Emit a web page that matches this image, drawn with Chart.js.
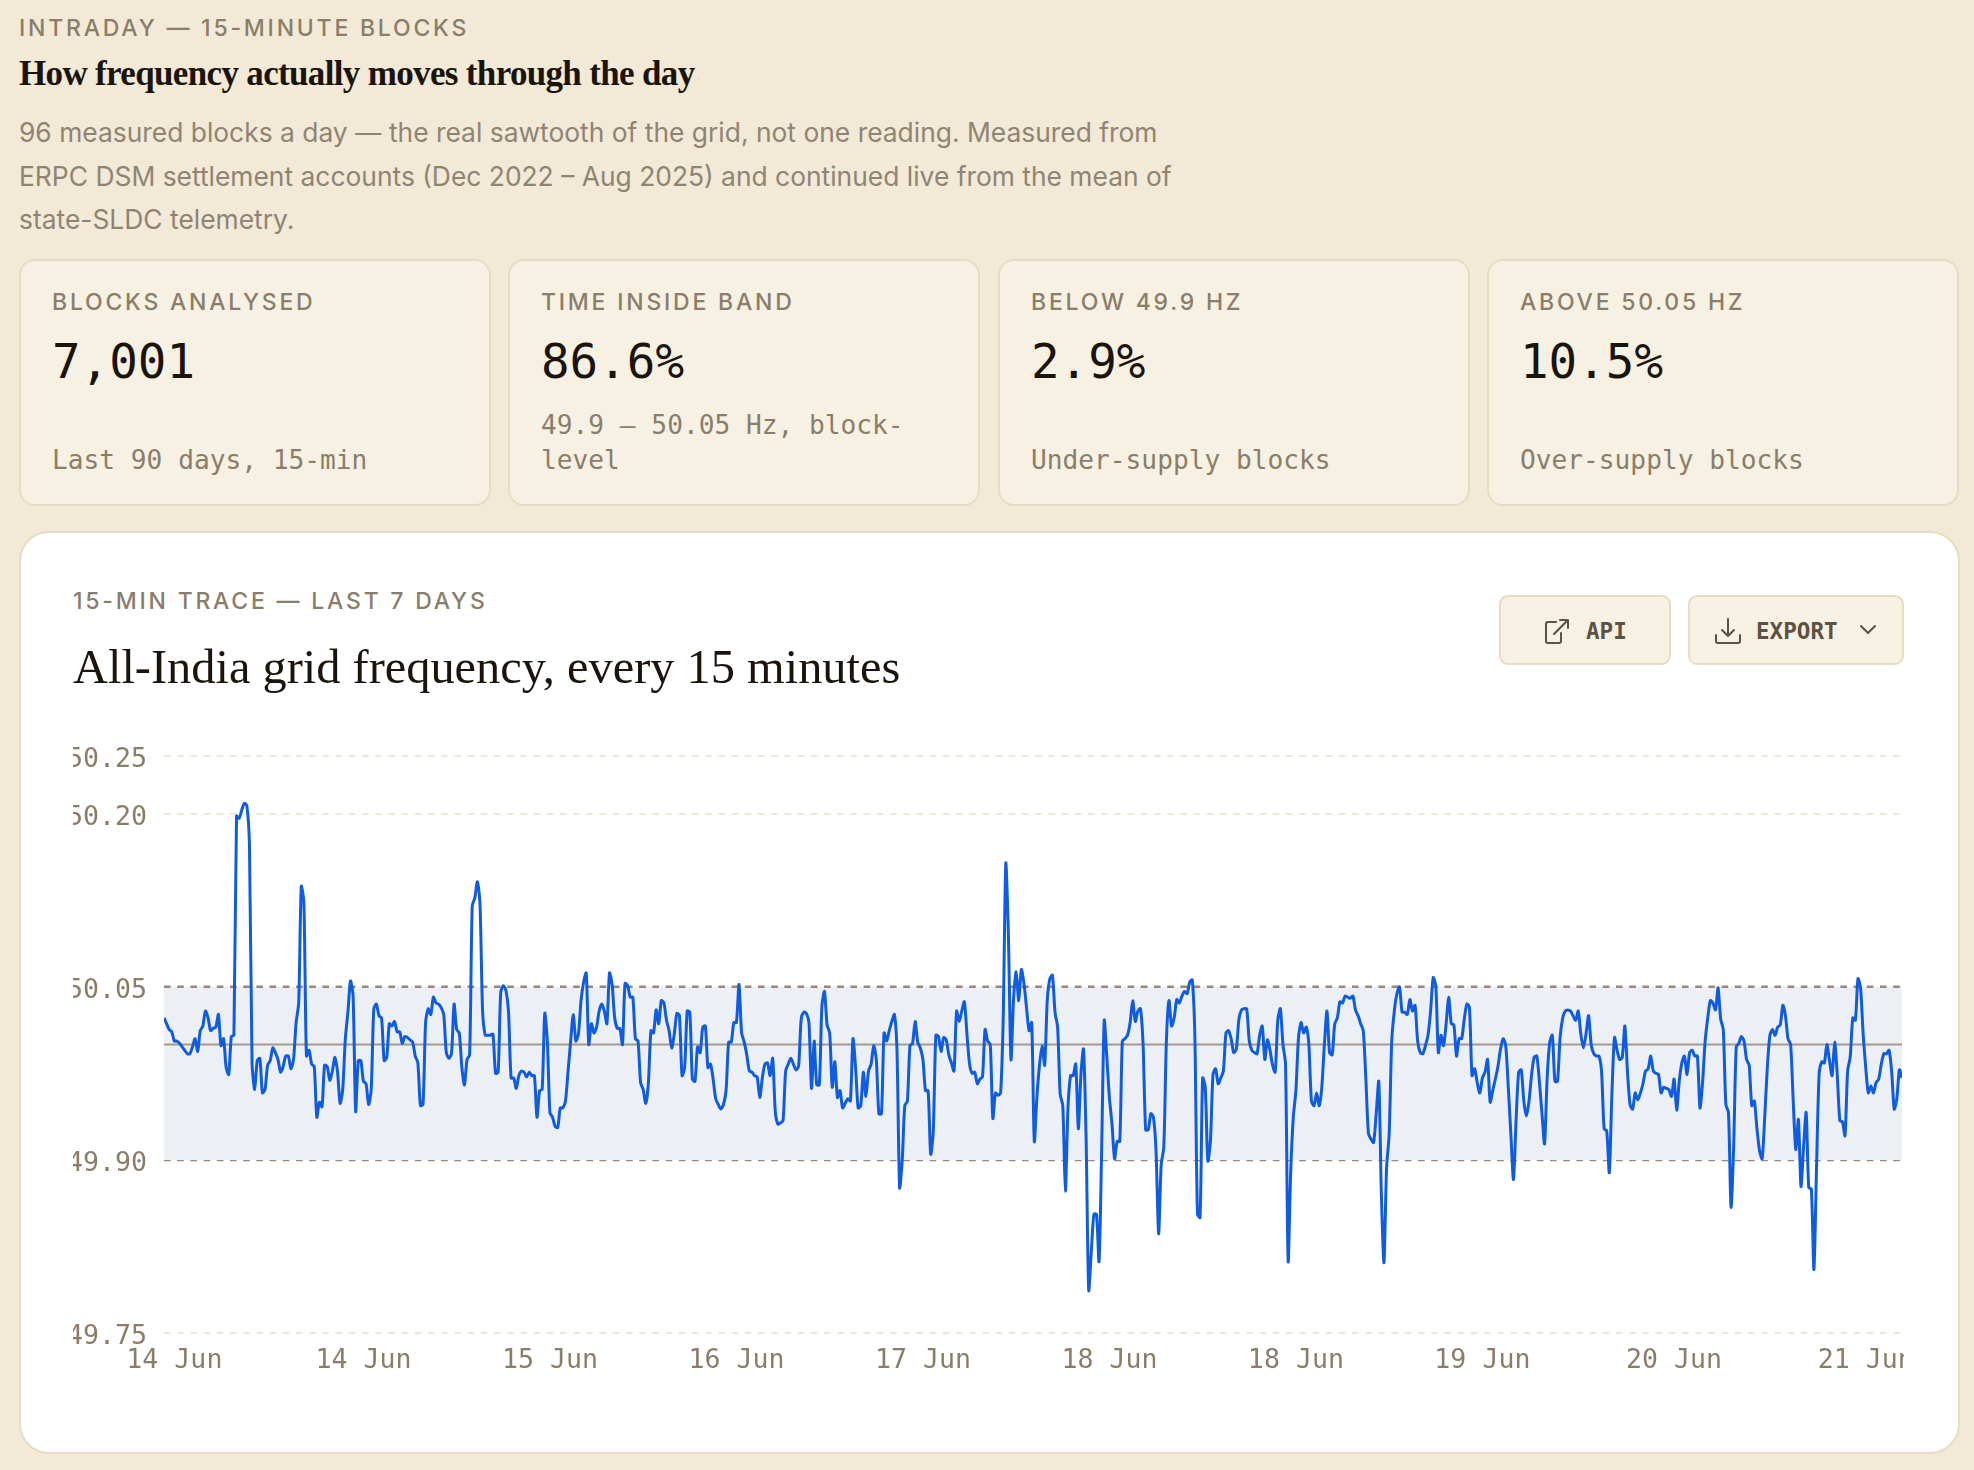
<!DOCTYPE html>
<html>
<head>
<meta charset="utf-8">
<title>Intraday frequency</title>
<script src="https://cdn.jsdelivr.net/npm/chart.js@4"></script>
<style>
  html, body { margin: 0; padding: 0; }
  body { width: 1974px; height: 1470px; background: #f2ead7; position: relative; overflow: hidden; font-family: Inter, sans-serif; }
  .abs { position: absolute; white-space: nowrap; }
  .eyebrow { font-family: Inter, sans-serif; font-size: 23px; font-weight: 500; letter-spacing: 2.78px; color: #8a7d6a; line-height: 28px; }
  .headline { left: 19px; top: 52px; font-family: "Liberation Serif", serif; font-weight: 700; font-size: 35px; line-height: 44px; letter-spacing: -0.66px; color: #1a140c; }
  .lede { left: 19px; top: 111px; font-size: 26.4px; line-height: 43.6px; color: #8f8474; }
  .stat { position: absolute; top: 259px; width: 472px; height: 247px; box-sizing: border-box; background: #f7f1e3; border: 2px solid #e6dcc3; border-radius: 16px; }
  .stat .eyebrow { position: absolute; left: 31px; top: 27px; white-space: nowrap; }
  .stat .num { position: absolute; left: 31px; top: 73px; font-family: "DejaVu Sans Mono", monospace; font-size: 47.5px; line-height: 56px; color: #1a140c; }
  .stat .sub { position: absolute; left: 31px; bottom: 26px; font-family: "DejaVu Sans Mono", monospace; font-size: 26.2px; line-height: 35px; color: #8a7d6a; width: 410px; }
  .panel { position: absolute; left: 19px; top: 531px; width: 1941px; height: 923px; box-sizing: border-box; background: #fff; border: 2px solid #e6dcc3; border-radius: 30px; }
  .panel-title { left: 73px; top: 637px; font-family: "Liberation Serif", serif; font-size: 48.4px; line-height: 60px; color: #1a140c; }
  .btn { position: absolute; top: 595px; height: 70px; box-sizing: border-box; background: #f7f1e3; border: 2px solid #e6dcc3; border-radius: 9px; font-family: "DejaVu Sans Mono", monospace; font-weight: 700; font-size: 22.6px; color: #5c5142; }
  .btn span { position: absolute; top: 20px; line-height: 28px; }
  .btn svg { position: absolute; fill: none; stroke: #5c5142; stroke-width: 2; stroke-linecap: round; stroke-linejoin: round; }
  #trace { position: absolute; left: 73px; top: 736px; }
</style>
</head>
<body>
<div class="abs eyebrow" style="left:19px;top:14px">INTRADAY — 15-MINUTE BLOCKS</div>
<div class="abs headline">How frequency actually moves through the day</div>
<div class="abs lede">96 measured blocks a day — the real sawtooth of the grid, not one reading. Measured from<br>ERPC DSM settlement accounts (Dec 2022 – Aug 2025) and continued live from the mean of<br>state-SLDC telemetry.</div>

<div class="stat" style="left:19px"><div class="eyebrow">BLOCKS ANALYSED</div><div class="num">7,001</div><div class="sub">Last 90 days, 15-min</div></div>
<div class="stat" style="left:508px"><div class="eyebrow">TIME INSIDE BAND</div><div class="num">86.6%</div><div class="sub">49.9 – 50.05 Hz, block-<br>level</div></div>
<div class="stat" style="left:998px"><div class="eyebrow">BELOW 49.9 HZ</div><div class="num">2.9%</div><div class="sub">Under-supply blocks</div></div>
<div class="stat" style="left:1487px"><div class="eyebrow">ABOVE 50.05 HZ</div><div class="num">10.5%</div><div class="sub">Over-supply blocks</div></div>

<div class="panel"></div>
<div class="abs eyebrow" style="left:73px;top:587px">15-MIN TRACE — LAST 7 DAYS</div>
<div class="abs panel-title">All-India grid frequency, every 15 minutes</div>

<div class="btn" style="left:1499px;width:172px">
  <svg style="left:42px;top:20px" width="28" height="28" viewBox="0 0 28 28"><path d="M13 5H5a2 2 0 0 0-2 2v17a2 2 0 0 0 2 2h11a2 2 0 0 0 2-2v-8"/><path d="M11 17L25 3M17 3h8v8"/></svg>
  <span style="left:85px">API</span>
</div>
<div class="btn" style="left:1688px;width:216px">
  <svg style="left:24px;top:20px" width="28" height="28" viewBox="0 0 28 28"><path d="M2 18v6a2 2 0 0 0 2 2h20a2 2 0 0 0 2-2v-6"/><path d="M14 2v16M8 13l6 6 6-6"/></svg>
  <span style="left:66px">EXPORT</span>
  <svg style="left:169px;top:26px" width="18" height="14" viewBox="0 0 18 14"><path d="M2 3l7 7 7-7"/></svg>
</div>

<canvas id="trace" width="1831" height="640"></canvas>

<script>
// 15-minute block means in Hz, one array per 96 blocks
const blocksA = [50.023,50.018,50.013,50.011,50.003,50.003,50.001,49.998,49.995,49.992,49.992,49.998,50.005,49.994,50.012,50.016,50.029,50.023,50.012,50.014,50.015,50.026,49.999,50.005,49.980,49.974,50.007,50.008,50.198,50.196,50.203,50.209,50.207,50.172,49.984,49.961,49.986,49.988,49.958,49.961,49.982,49.986,49.997,49.993,49.987,49.976,49.981,49.990,49.990,49.979,49.987,50.019,50.036,50.137,50.123,49.990,49.995,49.983,49.981,49.937,49.950,49.946,49.982,49.981,49.969,49.977,49.989,49.976,49.949,49.961,50.005,50.028,50.055,50.042,49.942,49.986,49.986,49.968,49.966,49.948,49.961,50.031,50.035,50.025,50.023,49.986,49.989,50.018,50.016,50.020,50.011,50.011,50.001,50.007,50.006,50.004];
const blocksB = [50.002,49.990,49.984,49.947,49.948,50.019,50.031,50.026,50.041,50.036,50.035,50.032,50.026,49.993,49.988,49.992,50.035,50.013,50.010,49.980,49.965,49.987,49.991,50.120,50.127,50.141,50.122,50.029,50.008,50.008,50.008,50.009,49.975,49.976,50.045,50.051,50.047,50.029,49.971,49.971,49.962,49.973,49.977,49.976,49.972,49.976,49.973,49.973,49.937,49.960,49.961,50.027,50.003,49.941,49.937,49.929,49.928,49.945,49.945,49.951,49.977,50.003,50.026,50.003,50.009,50.038,50.054,50.062,50.000,50.018,50.010,50.015,50.029,50.035,50.029,50.018,50.062,50.052,50.023,50.014,50.014,50.000,50.053,50.051,50.041,50.041,50.005,50.003,49.967,49.961,49.949,49.966,50.012,50.010,50.030,50.018];
const blocksC = [50.038,50.036,50.021,50.012,49.997,50.009,50.027,50.025,49.973,49.980,50.029,50.028,49.970,49.968,49.998,49.993,50.015,50.016,49.980,49.983,49.970,49.953,49.948,49.944,49.948,49.960,50.002,50.002,50.019,50.019,50.052,50.010,50.002,49.991,49.977,49.976,49.973,49.972,49.954,49.971,49.983,49.984,49.973,49.988,49.942,49.931,49.932,49.934,49.977,49.983,49.988,49.983,49.978,49.981,50.022,50.028,50.027,50.019,49.962,50.003,49.965,49.965,50.033,50.046,50.017,50.010,49.963,49.985,49.954,49.960,49.945,49.949,49.953,49.951,50.005,49.980,49.945,49.947,49.976,49.955,49.977,49.983,49.999,49.987,49.940,49.940,50.010,50.003,50.012,50.020,50.026,49.994,49.876,49.899,49.947,49.951];
const blocksD = [49.999,50.001,50.020,50.002,49.997,49.987,49.960,49.960,49.905,49.925,50.008,50.007,49.994,50.006,50.004,49.991,49.984,49.977,50.029,50.020,50.029,50.037,50.009,49.983,49.975,49.976,49.966,49.970,49.972,50.013,50.003,50.000,49.936,49.958,49.956,49.958,50.023,50.157,50.095,49.987,50.040,50.063,50.038,50.065,50.053,50.032,50.012,50.019,49.916,49.954,49.982,49.999,49.982,50.038,50.057,50.060,50.028,50.015,49.957,49.947,49.873,49.945,49.973,49.973,49.983,49.927,49.974,49.996,49.919,49.787,49.820,49.853,49.853,49.812,49.908,50.021,49.989,49.954,49.931,49.901,49.916,49.916,50.003,50.005,50.008,50.019,50.038,50.020,50.029,50.031,50.000,49.926,49.926,49.940,49.937,49.908];
const blocksE = [49.836,49.896,49.911,50.003,50.038,50.016,50.023,50.039,50.036,50.042,50.046,50.044,50.054,50.056,50.006,49.853,49.850,49.971,49.963,49.899,49.916,49.974,49.979,49.966,49.971,49.977,50.010,50.012,50.005,49.993,49.996,50.022,50.030,50.031,50.031,50.003,49.995,49.993,49.992,50.008,50.016,49.987,50.004,49.995,49.982,49.976,50.021,50.031,50.000,49.983,49.812,49.890,49.937,49.960,50.006,50.019,50.010,50.015,50.000,49.951,49.947,49.958,49.947,49.963,50.000,50.029,49.993,49.991,50.018,50.023,50.037,50.036,50.042,50.041,50.040,50.042,50.030,50.025,50.018,50.012,49.971,49.923,49.918,49.915,49.940,49.968,49.870,49.811,49.893,49.922,50.003,50.029,50.044,50.050,50.028,50.028];
const blocksF = [50.026,50.039,50.029,50.034,50.003,49.993,49.992,49.999,50.008,50.029,50.058,50.051,49.993,50.008,49.999,50.018,50.041,50.018,50.017,49.990,50.005,50.005,50.022,50.035,50.032,49.973,49.979,49.967,49.958,49.971,49.976,49.987,49.950,49.960,49.970,49.981,49.996,50.005,49.999,49.963,49.922,49.883,49.934,49.976,49.978,49.951,49.938,49.951,49.974,49.989,49.990,49.968,49.940,49.914,49.971,50.002,50.008,49.968,49.968,50.006,50.023,50.029,50.030,50.029,50.025,50.021,50.029,50.009,49.997,50.009,50.025,50.000,49.992,49.990,49.990,49.977,49.927,49.925,49.889,49.957,50.006,49.995,49.987,49.989,50.016,49.977,49.948,49.944,49.958,49.952,49.958,49.966,49.977,49.979,49.990,49.977];
const blocksG = [49.975,49.974,49.958,49.963,49.962,49.961,49.955,49.970,49.943,49.968,49.984,49.990,49.974,49.993,49.995,49.990,49.990,49.945,49.967,50.003,50.023,50.038,50.036,50.030,50.049,50.022,50.013,49.948,49.941,49.859,49.911,49.998,50.001,50.007,50.003,49.987,49.982,49.947,49.951,49.927,49.908,49.901,49.937,49.980,50.008,50.013,50.008,50.015,50.017,50.034,50.025,50.005,50.000,49.951,49.909,49.935,49.877,49.911,49.941,49.876,49.875,49.805,49.893,49.974,49.985,49.984,50.000,49.986,49.973,50.002,49.974,49.934,49.933,49.921,49.977,49.989,50.023,50.021,50.057,50.049,50.009,49.980,49.958,49.964,49.958,49.967,49.970,49.983,49.992,49.992,49.995,49.977,49.944,49.953,49.978,49.971];

const freqHz = [...blocksA, ...blocksB, ...blocksC, ...blocksD, ...blocksE, ...blocksF, ...blocksG];
const lastBlock = freqHz.length - 1;

const yTicks = [49.75, 49.9, 50.05, 50.2, 50.25];
const tickBlocks = [4, 77, 149, 221, 293, 365, 437, 509, 583, 657];
const tickDates = ["14 Jun", "14 Jun", "15 Jun", "16 Jun", "17 Jun", "18 Jun", "18 Jun", "19 Jun", "20 Jun", "21 Jun"];
const bandLow = 49.9;
const bandHigh = 50.05;
const nominal = 50;

const span = (hz) => [{ x: 0, y: hz }, { x: lastBlock, y: hz }];
const mono = '"DejaVu Sans Mono", monospace';

new Chart(document.getElementById("trace"), {
  type: "line",
  data: {
    datasets: [
      {
        data: freqHz.map((hz, i) => ({ x: i, y: hz })),
        borderColor: "#0f5ce0",
        borderWidth: 3,
        tension: 0.25,
        pointRadius: 0,
        fill: false,
        order: 0,
      },
      {
        data: span(nominal),
        borderColor: "#a39a8c",
        borderWidth: 2,
        pointRadius: 0,
        fill: false,
        order: 1,
      },
      {
        data: span(bandHigh),
        borderColor: "#9c8676",
        borderWidth: 2.5,
        borderDash: [6.6, 6.6],
        pointRadius: 0,
        backgroundColor: "#eceff4",
        fill: "+1",
        order: 2,
      },
      {
        data: span(bandLow),
        borderColor: "#9c8676",
        borderWidth: 2.5,
        borderDash: [6.6, 6.6],
        pointRadius: 0,
        fill: false,
        order: 2,
      },
    ],
  },
  options: {
    responsive: false,
    animation: false,
    layout: { padding: { top: 20, right: 2, left: 0, bottom: 0 } },
    plugins: { legend: { display: false }, tooltip: { enabled: false } },
    scales: {
      x: {
        type: "linear",
        min: 0,
        max: lastBlock,
        border: { display: false },
        grid: { display: false },
        afterBuildTicks: (axis) => {
          axis.ticks = tickBlocks.map((value) => ({ value }));
        },
        afterFit: (axis) => {
          axis.height = 43;
          axis.paddingLeft = 0;
          axis.paddingRight = 0;
        },
        ticks: {
          autoSkip: false,
          maxRotation: 0,
          padding: 4,
          color: "#8a7d6a",
          font: { family: mono, size: 26.6 },
          callback: (value) => tickDates[tickBlocks.indexOf(value)],
        },
      },
      y: {
        min: 49.75,
        max: 50.25,
        border: { display: false, dash: [6.6, 6.6] },
        grid: { color: "#efe7d6", lineWidth: 2, drawTicks: false },
        afterBuildTicks: (axis) => {
          axis.ticks = yTicks.map((value) => ({ value }));
        },
        afterFit: (axis) => {
          axis.width = 91;
          axis.paddingTop = 0;
          axis.paddingBottom = 0;
        },
        ticks: {
          padding: 17,
          labelOffset: 4,
          color: "#8a7d6a",
          font: { family: mono, size: 26.6 },
          callback: (value) => value.toFixed(2),
        },
      },
    },
  },
});
</script>
</body>
</html>
